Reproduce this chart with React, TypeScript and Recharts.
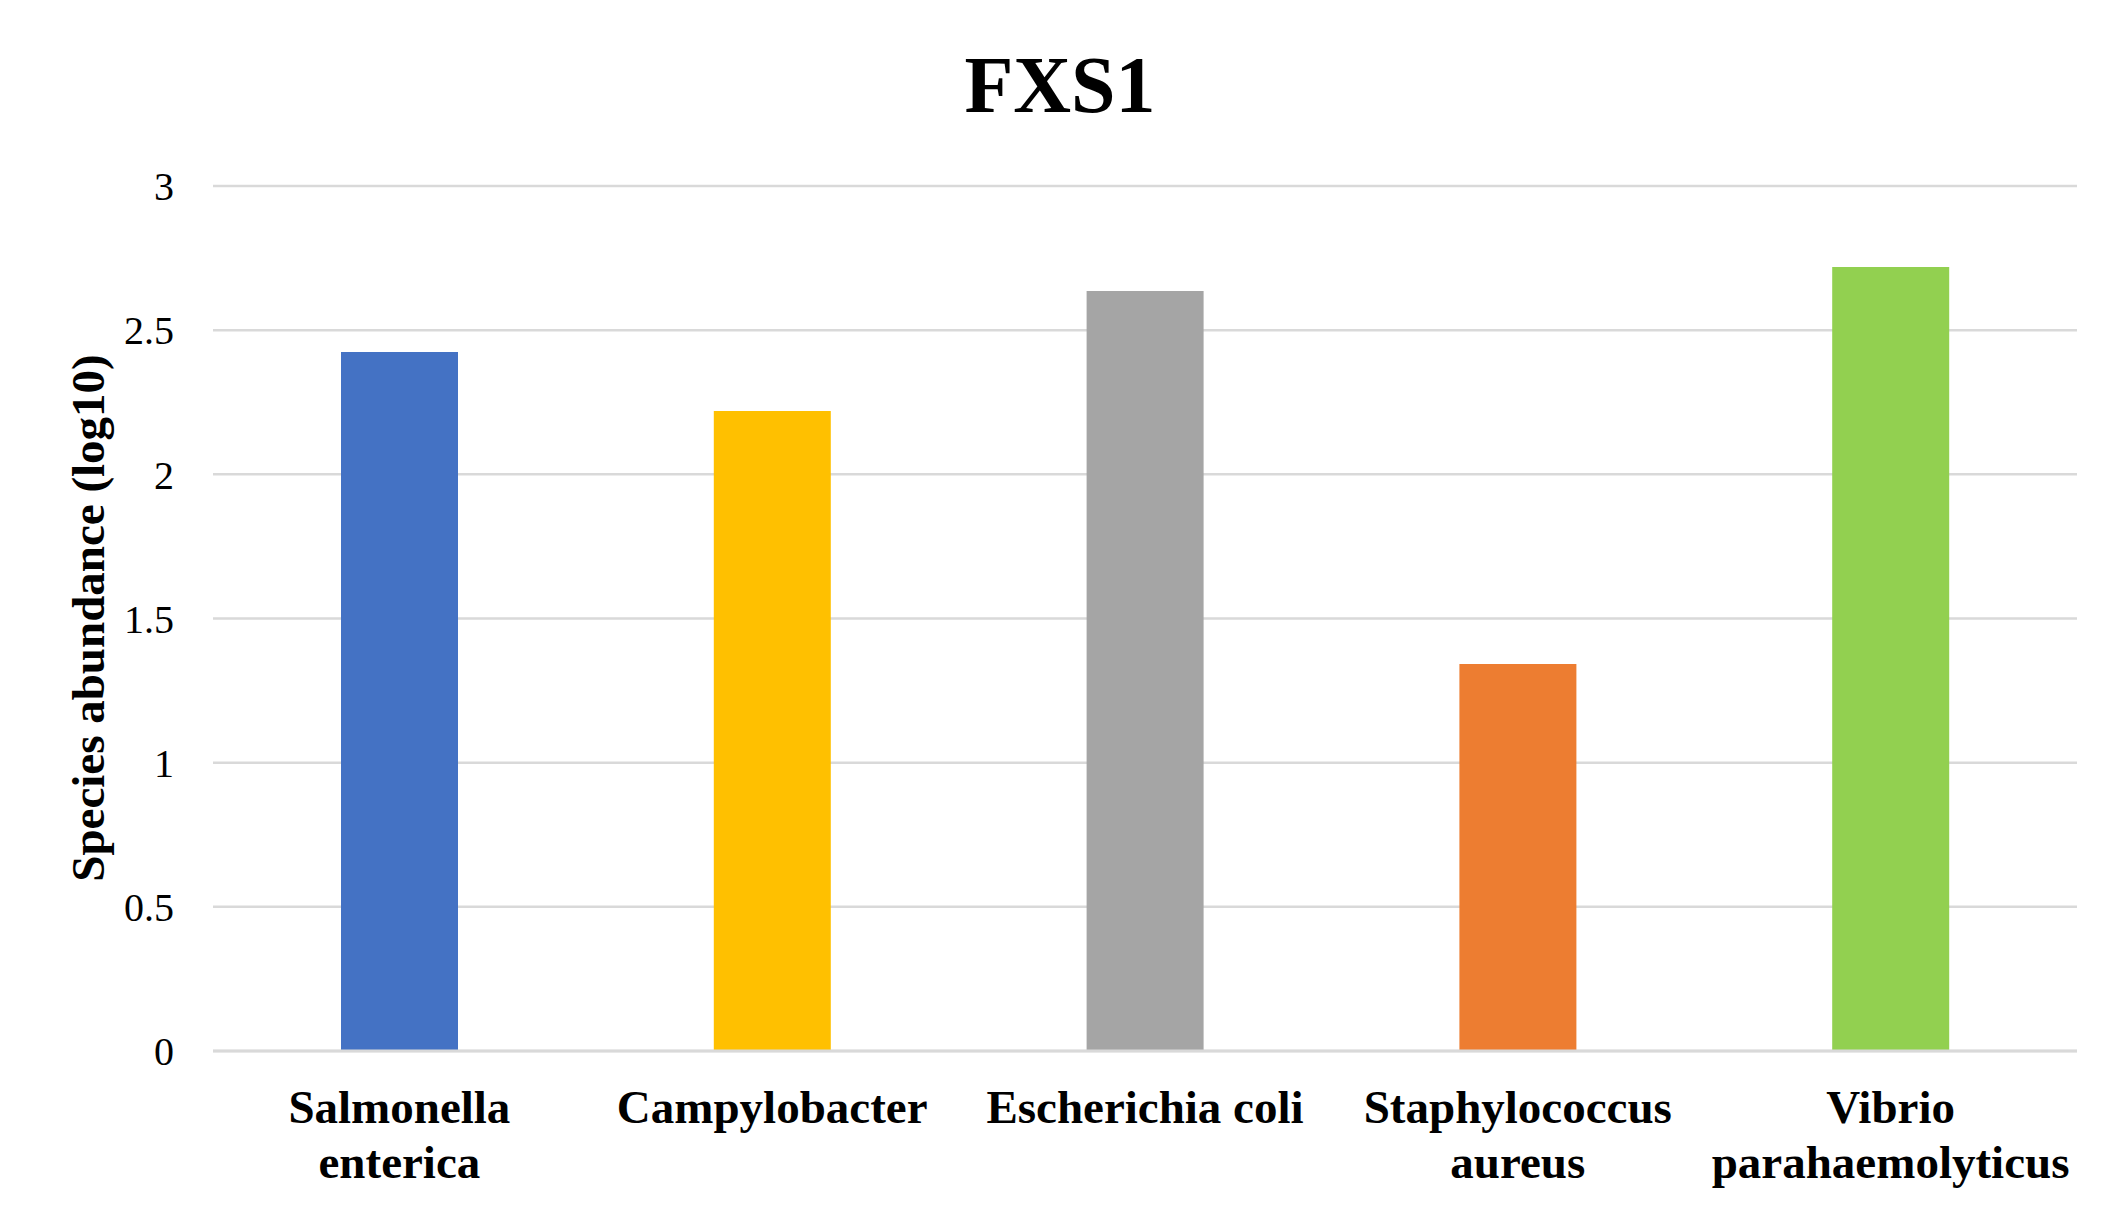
import { BarChart, Bar, XAxis, YAxis, CartesianGrid, Cell } from "recharts";

const categories = [
  "Salmonella enterica",
  "Campylobacter",
  "Escherichia coli",
  "Staphylococcus aureus",
  "Vibrio parahaemolyticus",
];
const abundance = [2.424, 2.22, 2.636, 1.342, 2.719];
const barColors = ["#4472C4", "#FFC000", "#A5A5A5", "#ED7D31", "#92D050"];
const yTicks = [0, 0.5, 1, 1.5, 2, 2.5, 3];

const chartTitle = "FXS1";
const yLabel = "Species abundance (log10)";

const FONT = '"Liberation Serif", "Times New Roman", serif';

const W = 2126;
const H = 1218;

// long names don't fit the band, so they go on two lines (split at the first space)
function wrapLabel(label: string): string[] {
  if (label.length <= 16) return [label];
  const i = label.indexOf(" ");
  if (i < 0) return [label];
  return [label.slice(0, i), label.slice(i + 1)];
}

function CategoryTick(props: any) {
  const { x, y, payload } = props;
  const lines = wrapLabel(String(payload.value));
  return (
    <text
      x={x}
      y={y + 33}
      textAnchor="middle"
      fill="#000"
      fontFamily={FONT}
      fontWeight={700}
      fontSize={47}
    >
      {lines.map((line, i) => (
        <tspan key={i} x={x} dy={i === 0 ? 0 : 55}>
          {line}
        </tspan>
      ))}
    </text>
  );
}

export default function App() {
  const data = categories.map((name, i) => ({ name, value: abundance[i] }));

  return (
    <div style={{ position: "absolute", left: 0, top: 0, width: W, height: H, background: "#fff" }}>
      <BarChart
        width={W}
        height={H}
        data={data}
        margin={{ top: 186, right: 49, bottom: 0, left: 0 }}
      >
        <CartesianGrid vertical={false} stroke="#d9d9d9" strokeWidth={2.5} />
        <XAxis
          dataKey="name"
          height={167}
          interval={0}
          tickLine={false}
          tickSize={0}
          tickMargin={39}
          axisLine={{ stroke: "#d9d9d9", strokeWidth: 3 }}
          tick={<CategoryTick />}
        />
        <YAxis
          width={213}
          domain={[0, 3]}
          ticks={yTicks}
          axisLine={false}
          tickLine={false}
          tickSize={0}
          tickMargin={39}
          tick={{ fill: "#000", fontSize: 40, fontFamily: FONT }}
        />
        <Bar dataKey="value" barSize={117} isAnimationActive={false}>
          {data.map((d, i) => (
            <Cell key={d.name} fill={barColors[i]} />
          ))}
        </Bar>
      </BarChart>
      <svg
        width={W}
        height={H}
        style={{ position: "absolute", left: 0, top: 0, pointerEvents: "none" }}
      >
        <text
          x={1060}
          y={112}
          textAnchor="middle"
          fontFamily={FONT}
          fontWeight={700}
          fontSize={80}
          fill="#000"
        >
          {chartTitle}
        </text>
        <text
          transform="translate(104, 618) rotate(-90)"
          textAnchor="middle"
          fontFamily={FONT}
          fontWeight={700}
          fontSize={47}
          fill="#000"
        >
          {yLabel}
        </text>
      </svg>
    </div>
  );
}
